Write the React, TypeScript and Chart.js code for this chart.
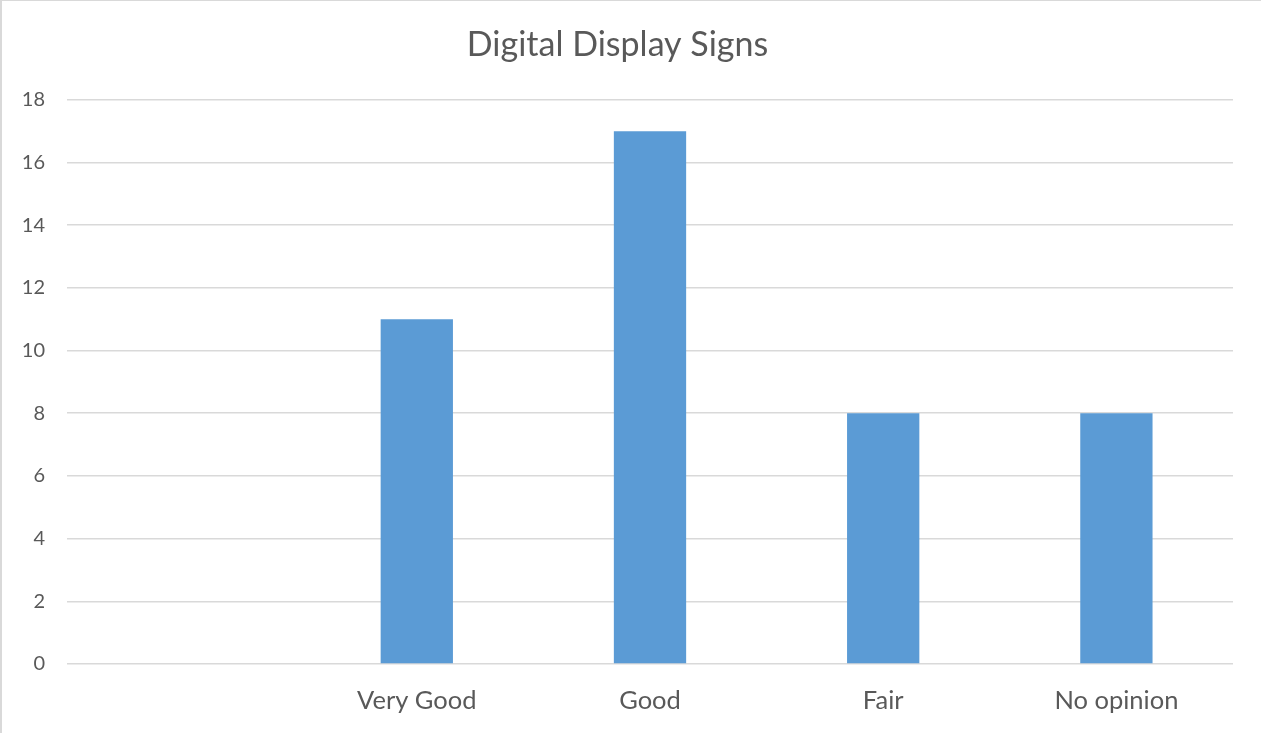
import React, { useEffect, useRef } from "react";
import { Chart, registerables } from "chart.js";

Chart.register(...registerables);

const categories: string[] = ["", "Very Good", "Good", "Fair", "No opinion"];
const values: (number | null)[] = [null, 11, 17, 8, 8];
const titleText = "Digital Display Signs";
const yMin = 0;
const yMax = 18;
const yStep = 2;

export default function App() {
  const ref = useRef<HTMLCanvasElement | null>(null);
  useEffect(() => {
    document.body.style.margin = "0";
    const ctx = ref.current!;
    const chart = new Chart(ctx, {
      type: "bar",
      data: {
        labels: categories,
        datasets: [
          {
            data: values,
            backgroundColor: "#5b9bd5",
            borderWidth: 0,
            categoryPercentage: 0.31,
            barPercentage: 1,
          },
        ],
      },
      options: {
        animation: false,
        responsive: false,
        maintainAspectRatio: false,
        layout: { padding: { left: 0, right: 28, top: 0, bottom: 0 } },
        plugins: {
          legend: { display: false },
          tooltip: { enabled: false },
          title: {
            display: true,
            text: titleText,
            color: "#595959",
            font: { family: "Lato, 'Open Sans', sans-serif", size: 34, weight: "normal" },
            padding: { top: 24, bottom: 34 },
          },
        },
        scales: {
          x: {
            grid: { display: false, drawTicks: false },
            border: { display: false },
            ticks: {
              color: "#595959",
              font: { family: "Lato, 'Open Sans', sans-serif", size: 25.5 },
              padding: 21,
              maxRotation: 0,
            },
            afterFit: (s: any) => {
              s.height = 69;
            },
          },
          y: {
            min: yMin,
            max: yMax,
            grid: { color: "#d9d9d9", lineWidth: 1.5, drawTicks: false },
            border: { display: false },
            ticks: {
              stepSize: yStep,
              color: "#595959",
              font: { family: "Lato, 'Open Sans', sans-serif", size: 20 },
              padding: 22,
            },
            afterFit: (s: any) => {
              s.width = 65;
            },
          },
        },
      },
    });
    return () => chart.destroy();
  }, []);
  return (
    <div
      style={{
        position: "absolute",
        left: 0,
        top: 0,
        width: 1261,
        height: 733,
        boxSizing: "border-box",
        borderLeft: "2px solid #d9d9d9",
        borderTop: "1px solid #d9d9d9",
        background: "#fff",
      }}
    >
      <canvas ref={ref} width={1259} height={732} style={{ display: "block" }} />
    </div>
  );
}
